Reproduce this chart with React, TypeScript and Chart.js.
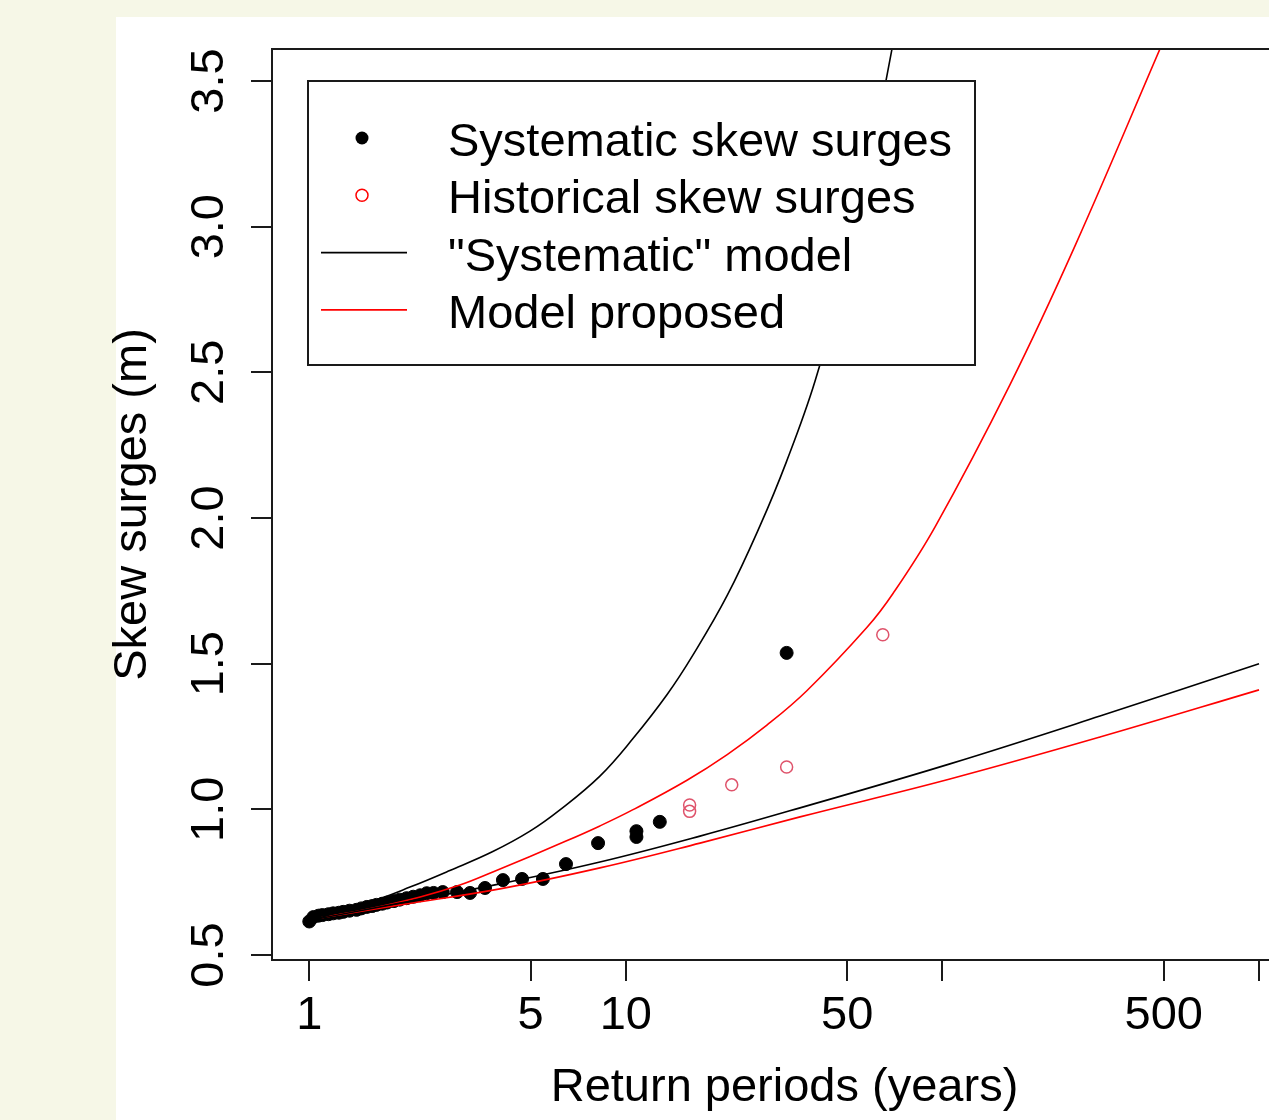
import React, { useEffect, useRef } from 'react';
import { Chart, registerables } from 'chart.js';

Chart.register(...registerables);

// ---- axes ----
const xTicks = [1, 5, 10, 50, 100, 500, 1000];
const xTickLabels = ['1', '5', '10', '50', '', '500', ''];
const yTicks = [0.5, 1.0, 1.5, 2.0, 2.5, 3.0, 3.5];
const xTitle = 'Return periods (years)';
const yTitle = 'Skew surges (m)';

// ---- legend ----
const legendLabels = ['Systematic skew surges', 'Historical skew surges', '"Systematic" model', 'Model proposed'];

// ---- observed points ----
const sysT = [1.0, 1.03, 1.07, 1.1, 1.15, 1.19, 1.24, 1.28, 1.34, 1.41, 1.46, 1.52, 1.58, 1.63, 1.7, 1.76, 1.85, 1.93, 2.03, 2.13, 2.24, 2.35, 2.47, 2.64, 2.93, 3.22, 3.59, 4.09, 4.7, 5.47, 6.47, 8.17, 10.8, 10.8, 12.8, 32.2];
const sysY = [0.615, 0.63, 0.635, 0.637, 0.64, 0.643, 0.645, 0.648, 0.652, 0.655, 0.66, 0.665, 0.668, 0.672, 0.676, 0.68, 0.685, 0.69, 0.695, 0.7, 0.705, 0.712, 0.713, 0.716, 0.716, 0.713, 0.73, 0.757, 0.761, 0.761, 0.812, 0.884, 0.925, 0.905, 0.957, 1.537];

const histT = [15.9, 15.9, 21.6, 32.2, 64.8];
const histY = [1.015, 0.993, 1.084, 1.145, 1.599];

// ---- model curves ----
const sysUpperT = [1.02, 1.5, 2.08, 2.78, 3.8, 4.98, 6.19, 8.28, 10.5, 13.5, 16.3, 20.9, 26.5, 32.1, 39.6, 51.0, 59.9, 65.9, 72.4];
const sysUpperY = [0.62, 0.675, 0.733, 0.79, 0.855, 0.925, 0.998, 1.114, 1.241, 1.394, 1.53, 1.734, 1.972, 2.191, 2.47, 2.9, 3.25, 3.485, 3.72];

const sysLowerT = [1.02, 1.934, 4.0, 8.28, 17.15, 35.5, 105.6, 314.6, 1000];
const sysLowerY = [0.62, 0.678, 0.744, 0.819, 0.908, 1.005, 1.156, 1.32, 1.5];

const propUpperT = [1.08, 1.5, 2.24, 2.99, 3.8, 6.47, 8.28, 10.5, 15.6, 20.9, 27.9, 37.3, 57.7, 69.8, 94.7, 163.5, 262.3, 486.6, 531];
const propUpperY = [0.627, 0.655, 0.699, 0.74, 0.785, 0.891, 0.943, 0.998, 1.1, 1.188, 1.289, 1.407, 1.624, 1.741, 1.969, 2.458, 2.934, 3.61, 3.706];

const propLowerT = [1.08, 1.934, 4.0, 8.28, 17.15, 35.5, 105.6, 314.6, 1000];
const propLowerY = [0.627, 0.672, 0.727, 0.799, 0.884, 0.974, 1.104, 1.248, 1.41];

const FONT_FAMILY = '"Liberation Sans", Arial, Helvetica, sans-serif';
const FONT_SIZE = 47;
const BG = 'rgb(246,247,231)';

const pts = (xs: number[], ys: number[]) => xs.map((x, i) => ({ x, y: ys[i] }));

const boxPlugin = {
  id: 'rbox',
  afterDraw(chart: any) {
    const { ctx, chartArea: a } = chart;
    ctx.save();
    ctx.strokeStyle = '#1a1a1a';
    ctx.lineWidth = 2;
    ctx.strokeRect(a.left, a.top, a.right - a.left, a.bottom - a.top);
    ctx.restore();
  },
};

const legendPlugin = {
  id: 'rlegend',
  afterDatasetsDraw(chart: any) {
    const { ctx, chartArea: a } = chart;
    const L = a.left + 36;
    const T = a.top + 32;
    const W = 667;
    const H = 284;
    ctx.save();
    ctx.fillStyle = '#ffffff';
    ctx.fillRect(L, T, W, H);
    ctx.strokeStyle = '#1a1a1a';
    ctx.lineWidth = 2;
    ctx.strokeRect(L, T, W, H);
    ctx.font = `${FONT_SIZE}px ${FONT_FAMILY}`;
    ctx.textAlign = 'left';
    ctx.textBaseline = 'alphabetic';
    legendLabels.forEach((lab, i) => {
      const base = T + 75 + i * 57.3;
      const cy = base - 18;
      ctx.fillStyle = '#000';
      ctx.fillText(lab, L + 140, base);
      if (i === 0) {
        ctx.beginPath();
        ctx.arc(L + 54, cy, 6.5, 0, Math.PI * 2);
        ctx.fillStyle = '#000';
        ctx.fill();
      } else if (i === 1) {
        ctx.beginPath();
        ctx.arc(L + 54, cy, 6, 0, Math.PI * 2);
        ctx.strokeStyle = '#ff0000';
        ctx.lineWidth = 1.5;
        ctx.stroke();
      } else {
        ctx.beginPath();
        ctx.moveTo(L + 13, cy);
        ctx.lineTo(L + 99, cy);
        ctx.strokeStyle = i === 2 ? '#000' : '#ff0000';
        ctx.lineWidth = 1.6;
        ctx.stroke();
      }
    });
    ctx.restore();
  },
};

export default function App() {
  const ref = useRef<HTMLCanvasElement | null>(null);

  useEffect(() => {
    if (!ref.current) return;
    const font = { family: FONT_FAMILY, size: FONT_SIZE };
    const lineDs = (label: string, data: any[], color: string) => ({
      label,
      data,
      showLine: true,
      borderColor: color,
      backgroundColor: color,
      borderWidth: 1.6,
      pointRadius: 0,
      tension: 0.4,
      order: 0,
    });
    const chart = new Chart(ref.current, {
      type: 'scatter',
      data: {
        datasets: [
          lineDs('"Systematic" model upper', pts(sysUpperT, sysUpperY), '#000000'),
          lineDs('"Systematic" model lower', pts(sysLowerT, sysLowerY), '#000000'),
          lineDs('Model proposed upper', pts(propUpperT, propUpperY), '#ff0000'),
          lineDs('Model proposed lower', pts(propLowerT, propLowerY), '#ff0000'),
          {
            label: 'Systematic skew surges',
            data: pts(sysT, sysY),
            pointRadius: 6.5,
            pointBackgroundColor: '#000',
            pointBorderColor: '#000',
            pointBorderWidth: 1,
            order: 1,
          },
          {
            label: 'Historical skew surges',
            data: pts(histT, histY),
            pointRadius: 6,
            pointBackgroundColor: 'rgba(0,0,0,0)',
            pointBorderColor: '#DF536B',
            pointBorderWidth: 1.5,
            order: 1,
          },
        ],
      },
      options: {
        responsive: false,
        animation: false,
        devicePixelRatio: 1,
        events: [],
        layout: { padding: { left: 0, top: 49, right: 33, bottom: 0 } },
        plugins: {
          legend: { display: false },
          tooltip: { enabled: false },
        },
        scales: {
          x: {
            type: 'logarithmic',
            position: 'bottom',
            min: 0.7625,
            max: 1318.3,
            afterBuildTicks: (s: any) => {
              s.ticks = xTicks.map((v) => ({ value: v }));
            },
            afterFit: (s: any) => {
              s.height = 160;
            },
            ticks: {
              autoSkip: false,
              minRotation: 0,
              maxRotation: 0,
              padding: 7,
              color: '#000',
              font,
              callback: (_v: any, i: number) => xTickLabels[i],
            },
            grid: { drawOnChartArea: false, drawTicks: true, tickLength: 21, color: '#1a1a1a', lineWidth: 2 },
            border: { display: false },
            title: { display: true, text: xTitle, color: '#000', font, padding: { top: 0, bottom: 4 } },
          },
          y: {
            type: 'linear',
            position: 'left',
            min: 0.4828,
            max: 3.6098,
            afterBuildTicks: (s: any) => {
              s.ticks = yTicks.map((v) => ({ value: v }));
            },
            afterFit: (s: any) => {
              s.width = 272;
            },
            ticks: {
              minRotation: 90,
              maxRotation: 90,
              crossAlign: 'center',
              padding: 8,
              color: '#000',
              font,
              callback: (v: any) => Number(v).toFixed(1),
            },
            grid: { drawOnChartArea: false, drawTicks: true, tickLength: 21, color: '#1a1a1a', lineWidth: 2 },
            border: { display: false },
            title: { display: true, text: yTitle, color: '#000', font, padding: { top: 105, bottom: 0 } },
          },
        },
      },
      plugins: [legendPlugin, boxPlugin],
    } as any);
    return () => chart.destroy();
  }, []);

  return (
    <div
      style={{
        position: 'fixed',
        left: 0,
        top: 0,
        width: 1269,
        height: 1120,
        overflow: 'hidden',
        background: BG,
      }}
    >
      <div style={{ position: 'absolute', left: 116, top: 17, width: 2000, height: 2000, background: '#ffffff' }} />
      <canvas
        ref={ref}
        width={1330}
        height={1120}
        style={{ position: 'absolute', left: 0, top: 0, width: 1330, height: 1120, display: 'block' }}
      />
    </div>
  );
}
